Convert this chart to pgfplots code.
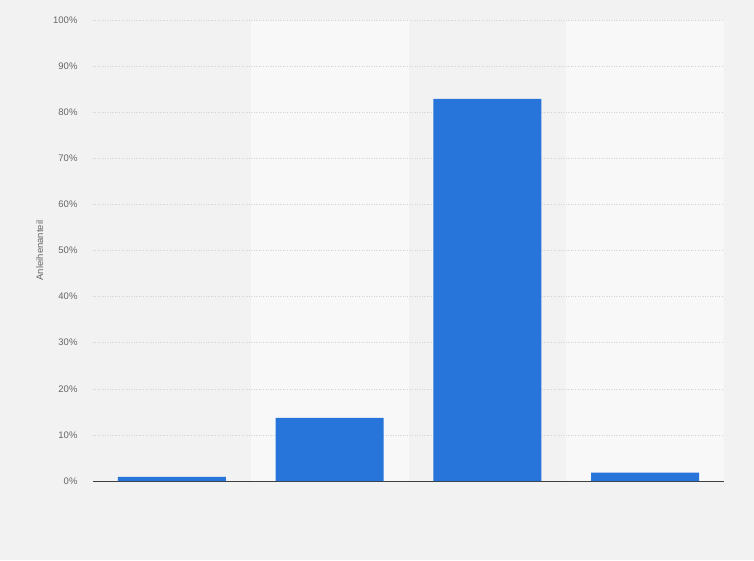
\documentclass[border=0pt]{standalone}
\usepackage{fontspec}
\setmainfont{Liberation Sans}
\usepackage{pgfplots}
\pgfplotsset{compat=1.18}

\definecolor{bg}{HTML}{F2F2F2}
\definecolor{band}{HTML}{F8F8F8}
\definecolor{barblue}{HTML}{2775DB}
\definecolor{ticktext}{HTML}{666666}
\definecolor{gridc}{HTML}{D2D2D2}

\begin{document}
\begin{tikzpicture}
\begin{axis}[
    scale only axis,
    width=631pt, height=461pt,
    set layers,
    xmin=-0.5, xmax=3.5,
    ymin=0, ymax=100,
    ytick={0,10,...,100},
    yticklabel={\pgfmathprintnumber{\tick}\%},
    xtick=\empty,
    axis x line*=bottom,
    axis y line*=left,
    y axis line style={draw=none},
    x axis line style={draw=black!75, line width=0.8pt, -},
    major tick length=0pt,
    ymajorgrids,
    grid style={gridc, dotted, line width=0.6pt},
    tick label style={font=\fontsize{9.5}{10}\selectfont, text=ticktext},
    yticklabel style={xshift=-12pt},
    /pgf/number format/assume math mode=true,
    ylabel={Anleihenanteil},
    every axis y label/.style={at={(rel axis cs:-0.0845,0.5)}, rotate=90, anchor=center,
        font=\fontsize{9.5}{10}\selectfont, text=ticktext},
    ybar, bar width=108pt,
    clip=false,
]
\begin{pgfonlayer}{axis background}
\fill[bg] (rel axis cs:-0.14739,-0.17137) rectangle (rel axis cs:1.04754,1.04338);
\fill[band] (axis cs:0.5,0) rectangle (axis cs:1.5,100);
\fill[band] (axis cs:2.5,0) rectangle (axis cs:3.5,100);
\end{pgfonlayer}
\addplot[fill=barblue, draw=none] coordinates {(0,0.9) (1,13.7) (2,82.9) (3,1.8)};
\end{axis}
\end{tikzpicture}
\end{document}
